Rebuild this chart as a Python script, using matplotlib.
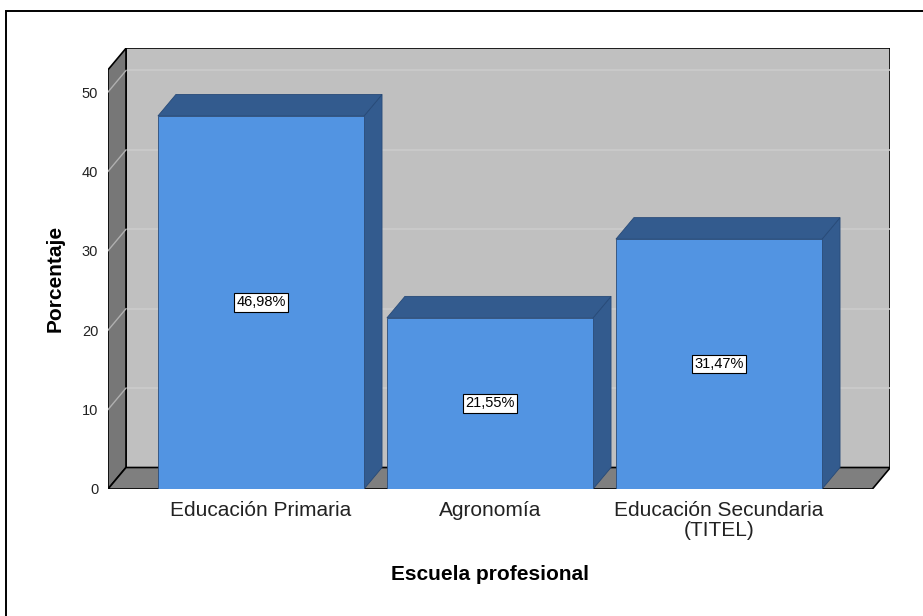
import matplotlib
matplotlib.use('Agg')
import matplotlib.pyplot as plt
from matplotlib.patches import Polygon, Rectangle

# datos del gráfico
categorias = ['Educación Primaria', 'Agronomía', 'Educación Secundaria\n(TITEL)']
porcentajes = [46.98, 21.55, 31.47]
etiquetas = ['46,98%', '21,55%', '31,47%']
yticks = [0, 10, 20, 30, 40, 50]

plt.rcParams['font.family'] = ['Liberation Sans', 'DejaVu Sans']

W, H = 923, 616
fig = plt.figure(figsize=(W / 100, H / 100), dpi=100)

# escala en pixeles para imitar el grafico 3D de SPSS
PX_X = 229.0
PX_Y = 7.94
X0, X1 = -0.668, 2.670
Y1 = 52.8
DX = 18 / PX_X
DY = 21.5 / PX_Y
ancho = 0.9

ax_w = (X1 + DX - X0) * PX_X
ax_h = (Y1 + DY) * PX_Y
ax = fig.add_axes([108 / W, (H - 489) / H, ax_w / W, ax_h / H])
ax.set_xlim(X0, X1 + DX)
ax.set_ylim(0, Y1 + DY)
for s in ax.spines.values():
    s.set_visible(False)
ax.patch.set_visible(False)

# pared del fondo
ax.add_patch(Polygon([(X0 + DX, DY), (X1 + DX, DY), (X1 + DX, Y1 + DY), (X0 + DX, Y1 + DY)],
                     closed=True, fc='#c0c0c0', ec='black', lw=1.2, zorder=1))
for v in yticks[1:]:
    ax.plot([X0 + DX, X1 + DX], [v + DY, v + DY], color='#cccccc', lw=1.2, zorder=2)

# pared izquierda
ax.add_patch(Polygon([(X0, 0), (X0 + DX, DY), (X0 + DX, Y1 + DY), (X0, Y1)],
                     closed=True, fc='#777777', ec='black', lw=1.2, zorder=3))
for v in yticks[1:]:
    ax.plot([X0, X0 + DX], [v, v + DY], color='#b0b0b0', lw=1.0, zorder=4)

# piso
ax.add_patch(Polygon([(X0, 0), (X1, 0), (X1 + DX, DY), (X0 + DX, DY)],
                     closed=True, fc='#7f7f7f', ec='black', lw=1.2, zorder=3))

# barras
for i, v in enumerate(porcentajes):
    l, r = i - ancho / 2, i + ancho / 2
    ax.add_patch(Polygon([(r, 0), (r + DX, DY), (r + DX, v + DY), (r, v)],
                         closed=True, fc='#335b8e', ec='#274a78', lw=0.6, zorder=5))
    ax.add_patch(Polygon([(l, v), (r, v), (r + DX, v + DY), (l + DX, v + DY)],
                         closed=True, fc='#335b8e', ec='#274a78', lw=0.6, zorder=5))
    ax.add_patch(Rectangle((l, 0), ancho, v, fc='#5294e2', ec='#2b4c78', lw=0.6, zorder=6))
    ax.text(i, v / 2, etiquetas[i], ha='center', va='center', fontsize=10.5, zorder=8,
            bbox=dict(boxstyle='square,pad=0.15', fc='white', ec='black', lw=0.8))

ax.set_yticks(yticks)
ax.set_yticklabels([str(t) for t in yticks])
ax.set_xticks(range(len(categorias)))
ax.set_xticklabels(categorias, linespacing=1.05)
ax.tick_params(axis='y', length=0, pad=7, labelsize=10.5, labelcolor='#222222')
ax.tick_params(axis='x', length=0, pad=9, labelsize=15, labelcolor='#222222')

fig.text(55 / W, 1 - 278 / H, 'Porcentaje', rotation=90, ha='center', va='center',
         fontsize=15, fontweight='bold')
fig.text(490 / W, 1 - 574 / H, 'Escuela profesional', ha='center', va='center',
         fontsize=15, fontweight='bold')

# marco exterior
fig.add_artist(Rectangle((6 / W, -0.1), 1.2, 1 - 11 / H + 0.1, transform=fig.transFigure,
                         fill=False, ec='black', lw=1.4))

fig.savefig('out.png', dpi=100)
